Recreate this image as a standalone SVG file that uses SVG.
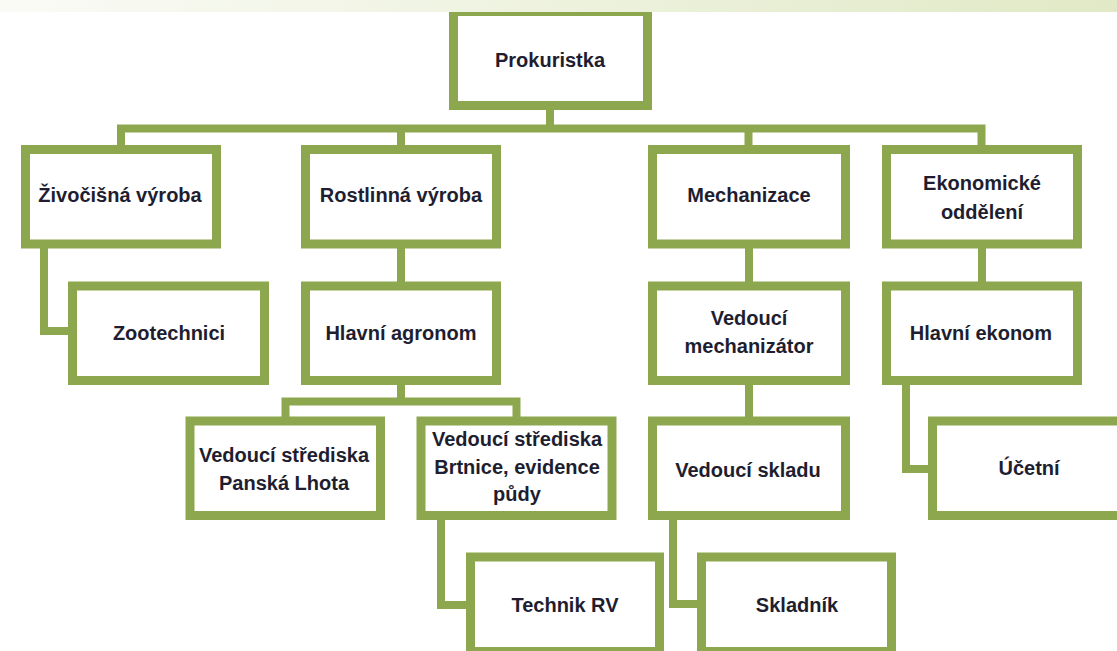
<svg xmlns="http://www.w3.org/2000/svg" width="1117" height="651" viewBox="0 0 1117 651">
  <defs>
    <linearGradient id="band" x1="0" y1="0" x2="1" y2="0">
      <stop offset="0" stop-color="#fafbf6"/>
      <stop offset="1" stop-color="#e1e9c6"/>
    </linearGradient>
    <style>
      .box { fill: #ffffff; stroke: #8da74f; stroke-width: 9; }
      .conn { fill: none; stroke: #8da74f; stroke-width: 8; stroke-linejoin: miter; stroke-linecap: butt; }
      text { font-family: "Liberation Sans", Arial, sans-serif; font-weight: bold; font-size: 20px; fill: #1e1e30; text-anchor: middle; }
    </style>
  </defs>
  <rect width="1117" height="651" fill="#ffffff"/>

  <g id="connectors">
    <path class="conn" d="M550 110 V128.5"/>
    <path class="conn" d="M121 145 V128.5 H981.5 V145"/>
    <path class="conn" d="M401 128.5 V145"/>
    <path class="conn" d="M748.5 128.5 V145"/>
    <path class="conn" d="M44 248 V331 H68"/>
    <path class="conn" d="M401 248 V282"/>
    <path class="conn" d="M401 385 V401.5"/>
    <path class="conn" d="M285.5 417 V401.5 H516.5 V417"/>
    <path class="conn" d="M441 520 V605 H466"/>
    <path class="conn" d="M749 248 V282"/>
    <path class="conn" d="M749 385 V417"/>
    <path class="conn" d="M673 520 V604 H697"/>
    <path class="conn" d="M982 248 V282"/>
    <path class="conn" d="M906 385 V469 H928"/>
  </g>

  <g id="prokuristka"><rect class="box" x="453.5" y="11.5" width="194" height="94"/><text x="550" y="67">Prokuristka</text></g>

  <g id="zivocisna"><rect class="box" x="25.5" y="149.5" width="191" height="94.5"/><text x="120" y="202">Živočišná výroba</text></g>
  <g id="rostlinna"><rect class="box" x="305.5" y="149.5" width="191" height="94.5"/><text x="401" y="202">Rostlinná výroba</text></g>
  <g id="mechanizace"><rect class="box" x="652.5" y="149.5" width="193" height="94.5"/><text x="749" y="202">Mechanizace</text></g>
  <g id="ekonomicke"><rect class="box" x="886.5" y="149.5" width="191" height="94.5"/><text x="982" y="190">Ekonomické</text><text x="982" y="218.5">oddělení</text></g>

  <g id="zootechnici"><rect class="box" x="72.5" y="286" width="192" height="94.5"/><text x="169" y="340">Zootechnici</text></g>
  <g id="hlavni-agronom"><rect class="box" x="305.5" y="286" width="191" height="94.5"/><text x="401" y="340">Hlavní agronom</text></g>
  <g id="vedouci-mechanizator"><rect class="box" x="652.5" y="286" width="193" height="94.5"/><text x="749" y="325">Vedoucí</text><text x="749" y="353">mechanizátor</text></g>
  <g id="hlavni-ekonom"><rect class="box" x="886.5" y="286" width="191" height="94.5"/><text x="981" y="340">Hlavní ekonom</text></g>

  <g id="panska-lhota"><rect class="box" x="190" y="421" width="190.5" height="94.5"/><text x="284" y="462">Vedoucí střediska</text><text x="284" y="489.5">Panská Lhota</text></g>
  <g id="brtnice"><rect class="box" x="421" y="421" width="191" height="94.5"/><text x="517" y="446">Vedoucí střediska</text><text x="517" y="474">Brtnice, evidence</text><text x="517" y="501">půdy</text></g>
  <g id="vedouci-skladu"><rect class="box" x="652.5" y="421" width="193" height="94.5"/><text x="748" y="477">Vedoucí skladu</text></g>
  <g id="ucetni"><rect class="box" x="932.5" y="421" width="193" height="94.5"/><text x="1029" y="475">Účetní</text></g>

  <g id="technik-rv"><rect class="box" x="470.5" y="557" width="189" height="94.5"/><text x="565" y="612">Technik RV</text></g>
  <g id="skladnik"><rect class="box" x="701.5" y="557" width="190" height="94.5"/><text x="797" y="612">Skladník</text></g>

  <rect id="top-band" x="0" y="0" width="1117" height="12" fill="url(#band)"/>
</svg>
